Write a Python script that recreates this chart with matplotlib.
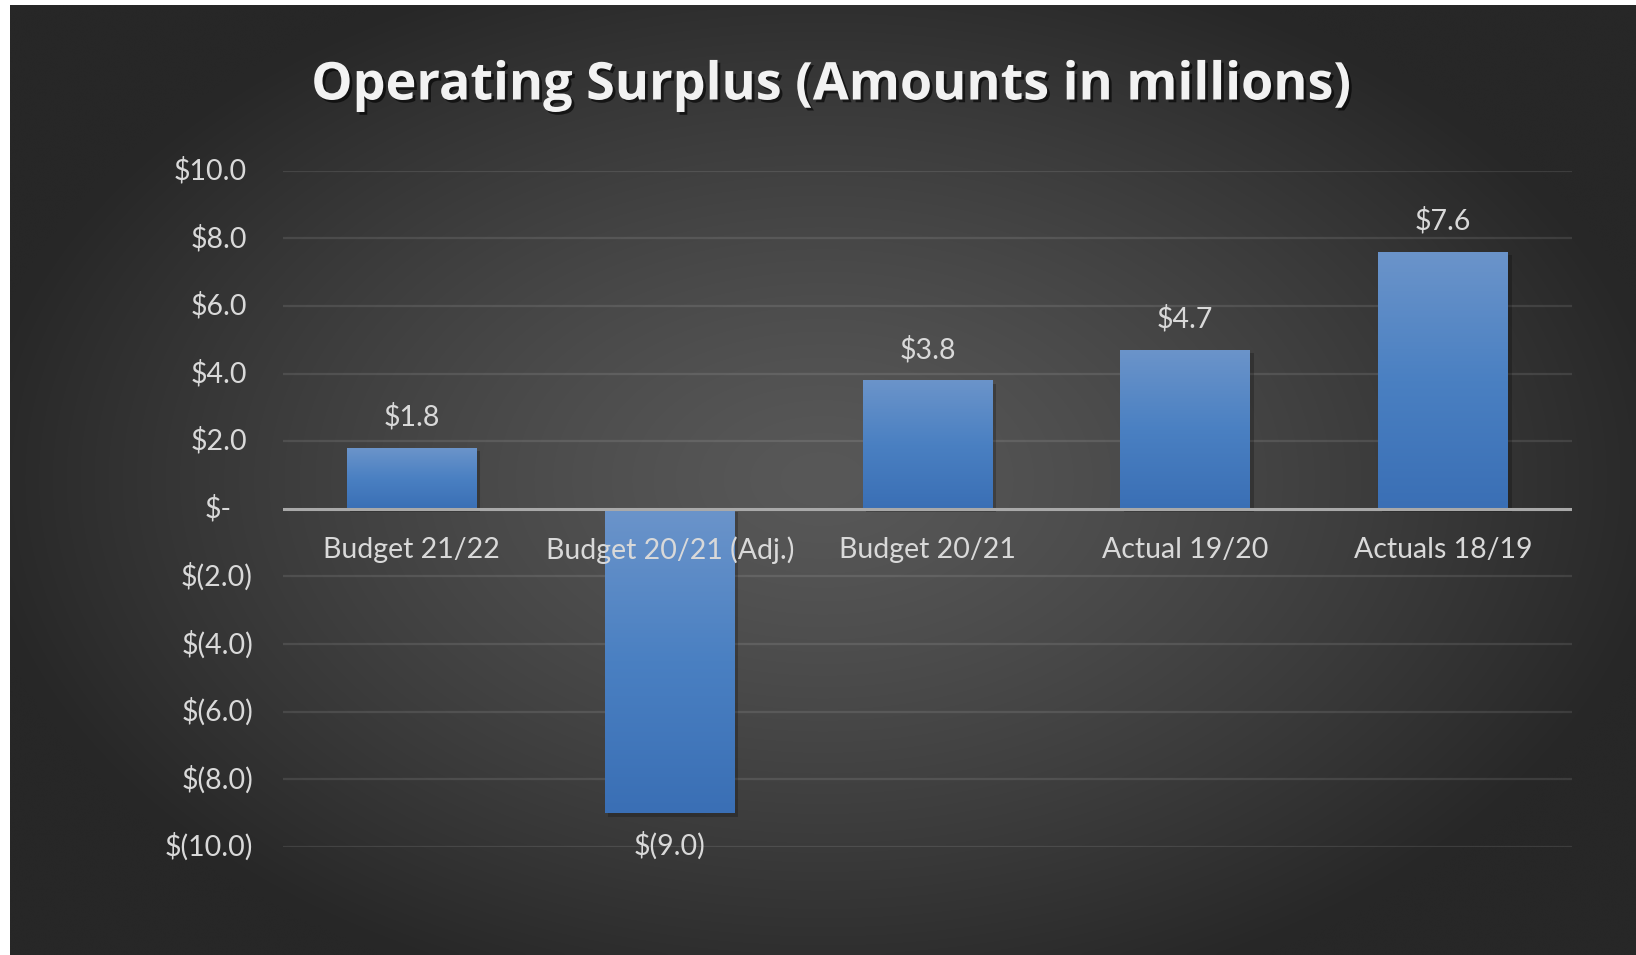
import numpy as np
import matplotlib
matplotlib.use("Agg")
import matplotlib.pyplot as plt
import matplotlib.patheffects as pe
from matplotlib.transforms import ScaledTranslation, blended_transform_factory
from matplotlib.colors import LinearSegmentedColormap, to_rgb

# ---- data -------------------------------------------------------------
categories = ["Budget 21/22", "Budget 20/21 (Adj.)", "Budget 20/21",
              "Actual 19/20", "Actuals 18/19"]
surplus = [1.8, -9.0, 3.8, 4.7, 7.6]
y_ticks = [10, 8, 6, 4, 2, 0, -2, -4, -6, -8, -10]
title = "Operating Surplus (Amounts in millions)"


def money(v):
    if abs(v) < 1e-9:
        return "$-"
    if v < 0:
        return f"$({-v:.1f})"
    return f"${v:.1f}"


plt.rcParams["font.family"] = ["Lato", "DejaVu Sans"]
W, H, DPI = 1636, 955, 100
fig = plt.figure(figsize=(W / DPI, H / DPI), dpi=DPI, facecolor="white")

# ---- dark radial background ----------------------------------------------
bg = fig.add_axes([10 / W, 0, 1 - 10 / W, 1 - 5 / H], zorder=-10)
nx, ny = 400, 240
xx, yy = np.meshgrid(np.linspace(-1, 1, nx), np.linspace(-1, 1, ny))
r = np.sqrt((xx / 1.05) ** 2 + (yy / 1.15) ** 2)
t = np.clip(r, 0, 1) ** 1.3
c_in, c_out = np.array(to_rgb("#585858")), np.array(to_rgb("#272727"))
img = c_in[None, None, :] * (1 - t[..., None]) + c_out[None, None, :] * t[..., None]
bg.imshow(img, extent=[0, 1, 0, 1], aspect="auto", interpolation="bicubic")
bg.set_axis_off()

# ---- plot area ---------------------------------------------------------
left, right = 283 / W, 1572 / W
top, bottom = 1 - 170.7 / H, 1 - 847 / H
ax = fig.add_axes([left, bottom, right - left, top - bottom])
ax.patch.set_alpha(0)
ax.set_xlim(-0.5, len(categories) - 0.5)
ax.set_ylim(-10, 10)
for s in ax.spines.values():
    s.set_visible(False)
ax.set_xticks([])
ax.set_yticks([])

for v in y_ticks:
    if v == 0:
        continue
    ax.axhline(v, color="white", alpha=0.10, lw=1.6, zorder=1)
ax.axhline(0, color="#a9a9a9", lw=2.2, zorder=5)

# ---- bars with vertical gradient --------------------------------------
x = np.arange(len(categories))
bars = ax.bar(x, surplus, width=0.504, color="#4a7cc0", zorder=3,
              path_effects=[pe.SimplePatchShadow(offset=(2.5, -2.5), shadow_rgbFace="black",
                                                 alpha=0.22),
                            pe.Normal()])
grad_cmap = LinearSegmentedColormap.from_list("bar", ["#3a6fb5", "#4a80c2", "#6b94ca"])
grad = np.linspace(0, 1, 256)[:, None]
for b in bars:
    x0, y0 = b.get_x(), b.get_y()
    x1, y1 = x0 + b.get_width(), y0 + b.get_height()
    lo, hi = min(y0, y1), max(y0, y1)
    ax.imshow(grad, cmap=grad_cmap, extent=[x0, x1, lo, hi], aspect="auto",
              origin="lower", interpolation="bicubic", zorder=4)
ax.set_xlim(-0.5, len(categories) - 0.5)
ax.set_ylim(-10, 10)

txt_col = "#d9d9d9"
fs = 20.5

# y tick labels (accounting style)
ylab_tr = blended_transform_factory(ax.transAxes, ax.transData)
for v in y_ticks:
    if v > 0:
        dx = -36
    elif v < 0:
        dx = -30
    else:
        dx = -51
    ax.text(0, v, money(v), ha="right", va="center", fontsize=fs, color=txt_col,
            transform=ylab_tr + ScaledTranslation(dx / DPI, 0, fig.dpi_scale_trans))

# category labels
for xi, name in zip(x, categories):
    ax.text(xi, 0, name, ha="center", va="center", fontsize=fs, color=txt_col,
            transform=ax.transData + ScaledTranslation(0, -41 / DPI, fig.dpi_scale_trans),
            zorder=6)

# value labels
for xi, v in zip(x, surplus):
    dy = 31 if v >= 0 else -32
    ax.text(xi, v, money(v), ha="center", va="center", fontsize=fs, color=txt_col,
            transform=ax.transData + ScaledTranslation(0, dy / DPI, fig.dpi_scale_trans),
            zorder=6)

# ---- title -------------------------------------------------------------
fig.text(832 / W, 1 - 86 / H, title, ha="center", va="center", fontsize=37.5,
         fontweight="bold", color="#f2f2f2", family=["Open Sans", "DejaVu Sans"],
         path_effects=[pe.withSimplePatchShadow(offset=(2, -2), shadow_rgbFace="black",
                                                alpha=0.6)])

fig.savefig("out.png", dpi=DPI, facecolor="white")
